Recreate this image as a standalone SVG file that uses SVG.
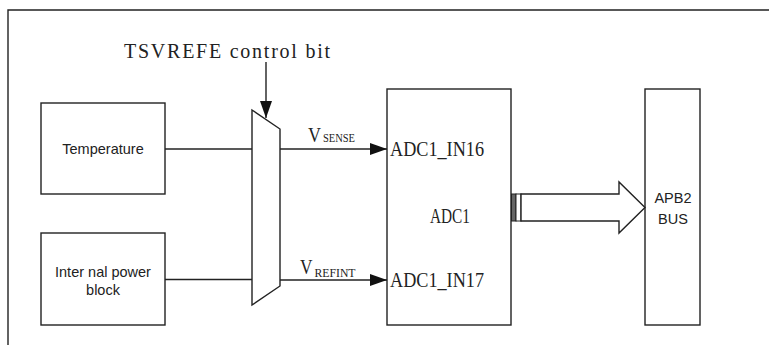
<svg xmlns="http://www.w3.org/2000/svg" width="769" height="345" viewBox="0 0 769 345">
<style>
.box{fill:#fff;stroke:#222;stroke-width:1.4}
.ln{fill:none;stroke:#222;stroke-width:1.4}
.sans{font-family:"Liberation Sans","DejaVu Sans",sans-serif;font-size:14.5px;fill:#222;text-anchor:middle}
.mono{font-family:"Liberation Serif","DejaVu Serif",serif;font-size:20px;fill:#222}
.ser{font-family:"Liberation Serif","DejaVu Serif",serif;fill:#222}
</style>
<defs>
<marker id="ah" viewBox="0 0 17 12" refX="17" refY="6" markerWidth="17" markerHeight="12" markerUnits="userSpaceOnUse" orient="auto">
<path d="M0,0 L17,6 L0,12 Z" fill="#111"/>
</marker>
</defs>
<rect width="769" height="345" fill="#fff"/>
<path class="ln" d="M8,345 V10 H769"/>
<text class="mono" x="124" y="57.5" textLength="206" lengthAdjust="spacing">TSVREFE control bit</text>
<g id="temperature">
<rect class="box" x="41" y="103" width="124" height="91"/>
<text class="sans" x="103" y="154">Temperature</text>
</g>
<g id="internal-power">
<rect class="box" x="41" y="233" width="124" height="92"/>
<text class="sans" x="103" y="276.5">Inter nal power</text>
<text class="sans" x="103" y="294.5">block</text>
</g>
<g id="mux">
<polygon class="box" points="252,110 280,129 280,286 252,305"/>
</g>
<g id="adc1">
<rect class="box" x="387" y="89" width="124" height="236"/>
<text class="mono" x="390" y="155.5" textLength="94" lengthAdjust="spacingAndGlyphs">ADC1_IN16</text>
<text class="mono" x="430" y="222.5" textLength="40" lengthAdjust="spacingAndGlyphs">ADC1</text>
<text class="mono" x="390" y="286.5" textLength="94" lengthAdjust="spacingAndGlyphs">ADC1_IN17</text>
</g>
<g id="apb2">
<rect class="box" x="645" y="89" width="55" height="236"/>
<text class="sans" x="673" y="203">APB2</text>
<text class="sans" x="673" y="223.5">BUS</text>
</g>
<g id="connectors">
<line class="ln" x1="266" y1="62" x2="266" y2="118" marker-end="url(#ah)"/>
<line class="ln" x1="165" y1="149" x2="252" y2="149"/>
<line class="ln" x1="165" y1="279.5" x2="252" y2="279.5"/>
<line class="ln" x1="280" y1="149" x2="387" y2="149" marker-end="url(#ah)"/>
<line class="ln" x1="280" y1="280" x2="387" y2="280" marker-end="url(#ah)"/>
<text class="ser" x="308" y="141.7" font-size="21" textLength="13" lengthAdjust="spacingAndGlyphs">V</text>
<text class="ser" x="323" y="141.7" font-size="13" textLength="32" lengthAdjust="spacingAndGlyphs">SENSE</text>
<text class="ser" x="300" y="274.3" font-size="21" textLength="12.5" lengthAdjust="spacingAndGlyphs">V</text>
<text class="ser" x="314.5" y="276.5" font-size="13" textLength="41" lengthAdjust="spacingAndGlyphs">REFINT</text>
<rect x="511.5" y="194" width="4.5" height="27" fill="#666" stroke="#222" stroke-width="1"/>
<rect x="516" y="194" width="5" height="27" fill="#fff" stroke="#222" stroke-width="1"/>
<polygon class="box" points="521,194 619,194 619,182 645,207.5 619,233 619,221 521,221"/>
</g>
</svg>
